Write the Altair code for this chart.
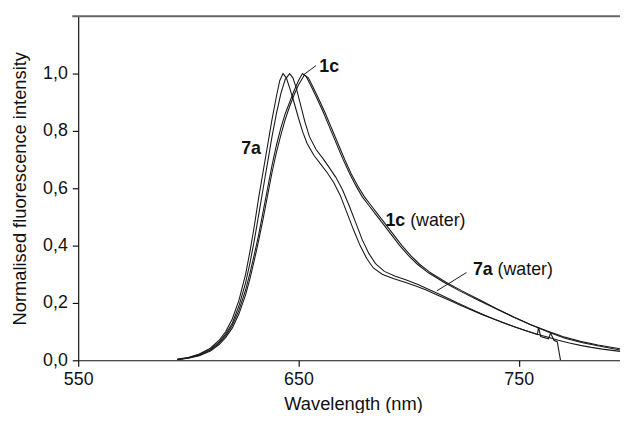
import altair as alt
import pandas as pd

# ---- data ----
l1_x = [595, 600, 605, 610, 614, 617, 620, 623, 626, 628, 630, 632, 634, 636, 638, 640, 641.5, 643,
        644.5, 646, 648, 650, 652, 654, 657, 660, 663, 666, 669, 672, 675, 678, 681, 684, 688, 693,
        698, 703, 708, 713, 718, 723, 728, 733, 738, 743, 748, 753, 758, 763, 768, 773, 778, 783, 788, 796]
l1_y = [0.004, 0.010, 0.022, 0.042, 0.07, 0.10, 0.145, 0.21, 0.30, 0.38, 0.47, 0.57, 0.66, 0.75, 0.84,
        0.92, 0.975, 1.0, 0.985, 0.95, 0.90, 0.845, 0.795, 0.755, 0.715, 0.685, 0.655, 0.62, 0.575, 0.515,
        0.455, 0.40, 0.355, 0.322, 0.30, 0.285, 0.273, 0.26, 0.245, 0.228, 0.211, 0.194, 0.177, 0.161,
        0.146, 0.131, 0.117, 0.104, 0.092, 0.081, 0.07, 0.06, 0.052, 0.045, 0.039, 0.031]

l2_x = [595, 600, 605, 610, 614, 617, 620, 623, 626, 628, 630, 632, 634, 636, 638, 640, 642, 644, 646,
        647.5, 649, 651, 653, 655, 658, 661, 664, 667, 670, 673, 676, 679, 682, 685, 689, 694, 699, 704,
        709, 714, 719, 724, 729, 734, 739, 744, 749, 754, 758.5, 759, 760, 763.5, 764.5, 766, 767.5, 769]
l2_y = [0.003, 0.009, 0.020, 0.038, 0.064, 0.092, 0.13, 0.19, 0.27, 0.34, 0.42, 0.51, 0.60, 0.69, 0.78,
        0.86, 0.93, 0.98, 1.0, 0.985, 0.95, 0.89, 0.83, 0.78, 0.735, 0.705, 0.672, 0.638, 0.595, 0.54, 0.48,
        0.42, 0.372, 0.337, 0.31, 0.293, 0.28, 0.265, 0.248, 0.23, 0.212, 0.194, 0.176, 0.159, 0.143,
        0.128, 0.114, 0.101, 0.09, 0.115, 0.083, 0.075, 0.095, 0.07, 0.065, 0.0]

r1_x = [595, 600, 605, 610, 614, 617, 620, 623, 626, 628, 630, 632, 634, 636, 638, 640, 642, 644, 646,
        648, 650, 651.8, 653.5, 655.5, 658, 661, 664, 667, 670, 673, 676, 679, 682, 685, 688, 692, 696,
        700, 704, 709, 716, 723, 731, 739, 747, 755, 763, 770, 778, 786, 796]
r1_y = [0.003, 0.008, 0.018, 0.035, 0.06, 0.086, 0.122, 0.175, 0.245, 0.305, 0.37, 0.44, 0.52, 0.60,
        0.68, 0.75, 0.81, 0.86, 0.90, 0.94, 0.975, 1.0, 0.99, 0.96, 0.92, 0.87, 0.815, 0.76, 0.705, 0.655,
        0.61, 0.57, 0.54, 0.51, 0.48, 0.44, 0.40, 0.365, 0.335, 0.305, 0.272, 0.243, 0.212, 0.182, 0.153,
        0.126, 0.102, 0.083, 0.066, 0.053, 0.04]

r2_x = [595, 600, 605, 610, 614, 617, 620, 623, 626, 628, 630, 632, 634, 636, 638, 640, 642, 644, 646,
        648, 650, 652.7, 654.5, 656.5, 659, 662, 665, 668, 671, 674, 677, 680, 683, 686, 689, 693, 697,
        701, 705, 710, 717, 724, 732, 740, 748, 756, 764, 771, 779, 787, 796]
r2_y = [0.002, 0.007, 0.016, 0.032, 0.055, 0.08, 0.113, 0.162, 0.228, 0.285, 0.35, 0.42, 0.495, 0.575,
        0.655, 0.725, 0.785, 0.84, 0.885, 0.925, 0.96, 0.995, 0.985, 0.955, 0.915, 0.865, 0.81, 0.755,
        0.70, 0.65, 0.607, 0.57, 0.54, 0.51, 0.48, 0.44, 0.40, 0.365, 0.335, 0.305, 0.272, 0.243, 0.212,
        0.18, 0.15, 0.122, 0.097, 0.077, 0.061, 0.049, 0.036]

series = [("7a", l1_x, l1_y), ("7a (water)", l2_x, l2_y),
          ("1c", r1_x, r1_y), ("1c (water)", r2_x, r2_y)]

# annotation labels
lab_bold = ["7a", "1c", "1c", "7a"]
lab_rest = ["", "", "(water)", "(water)"]
lab_x = [624.0, 659.5, 689.5, 729.2]
lab_y = [0.736, 1.021, 0.486, 0.314]

# leader lines
lead_x = [658.0, 726.3]
lead_y = [1.028, 0.306]
lead_x2 = [652.2, 712.8]
lead_y2 = [0.995, 0.242]

rows = []
for name, xs_, ys_ in series:
    for a, b in zip(xs_, ys_):
        rows.append({"series": name, "wl": a, "val": b})
df = pd.DataFrame(rows)

labels = pd.DataFrame({"bold": lab_bold, "rest": lab_rest, "x": lab_x, "y": lab_y})
leaders = pd.DataFrame({"x": lead_x, "y": lead_y, "x2": lead_x2, "y2": lead_y2})

FONT = "Liberation Sans"
W, H = 548, 348

xs = alt.Scale(domain=[550, 796], nice=False, zero=False)
ys = alt.Scale(domain=[0, 1.2], nice=False, zero=True)

lines = alt.Chart(df).mark_line(color="#1a1a1a", strokeWidth=1.1, clip=True).encode(
    x=alt.X("wl:Q", scale=xs,
            axis=alt.Axis(values=[550, 650, 750], format="d", title="Wavelength (nm)",
                          tickSize=6, labelPadding=4, titlePadding=7, grid=False,
                          labelFlush=False, labelOverlap=False, titleX=W / 2 + 4)),
    y=alt.Y("val:Q", scale=ys,
            axis=alt.Axis(values=[0, 0.2, 0.4, 0.6, 0.8, 1.0],
                          labelExpr="replace(format(datum.value, '.1f'), '.', ',')",
                          title="Normalised fluorescence intensity",
                          tickSize=6, labelPadding=5, titlePadding=13, grid=False,
                          labelFlush=False, labelOverlap=False)),
    detail="series:N",
)

top = alt.Chart(pd.DataFrame({"y": [1.2]})).mark_rule(color="#666666", strokeWidth=2, clip=False).encode(
    y=alt.Y("y:Q", scale=ys), x=alt.value(-6), x2=alt.value(W)
)

lead = alt.Chart(leaders).mark_rule(color="#1a1a1a", strokeWidth=1).encode(
    x=alt.X("x:Q", scale=xs), y=alt.Y("y:Q", scale=ys),
    x2="x2:Q", y2="y2:Q"
)

bold = alt.Chart(labels).mark_text(font=FONT, fontSize=18, fontWeight="bold", align="left",
                                   baseline="middle", color="#111").encode(
    x=alt.X("x:Q", scale=xs), y=alt.Y("y:Q", scale=ys), text="bold:N"
)
rest = alt.Chart(labels).mark_text(font=FONT, fontSize=18, align="left", baseline="middle",
                                   dx=25, color="#111").encode(
    x=alt.X("x:Q", scale=xs), y=alt.Y("y:Q", scale=ys), text="rest:N"
)

chart = alt.layer(lines, top, lead, bold, rest).properties(
    width=W, height=H,
    autosize=alt.AutoSizeParams(type="none"),
    padding={"left": 71, "top": 6, "right": 0, "bottom": 51},
).configure_view(stroke=None).configure_axis(
    domainColor="#111", tickColor="#111", labelColor="#111", titleColor="#111",
    labelFont=FONT, titleFont=FONT, labelFontSize=18, titleFontSize=18.5,
    titleFontWeight="normal", domainWidth=1.2, tickWidth=1.2,
)

chart.save("out.html", embed_options={"renderer": "svg", "actions": False})
